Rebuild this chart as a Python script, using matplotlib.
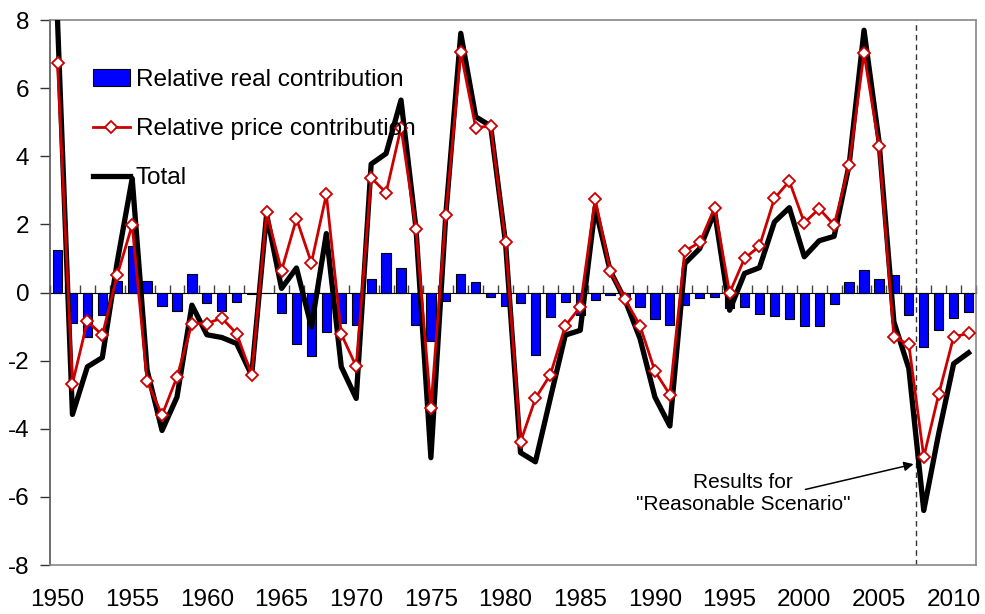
import numpy as np
import matplotlib.pyplot as plt

plt.rcParams['font.family'] = ['Liberation Sans', 'DejaVu Sans']
plt.rcParams['axes.unicode_minus'] = False

years = np.arange(1950, 2012)

# relative real contribution (bars)
real = [1.26, -0.89, -1.32, -0.65, 0.34, 1.37, 0.33, -0.40, -0.54, 0.54,
        -0.30, -0.55, -0.27, -0.03, -0.02, -0.59, -1.50, -1.85, -1.16, -0.89,
        -0.94, 0.41, 1.16, 0.72, -0.96, -1.42, -0.25, 0.54, 0.32, -0.13,
        -0.39, -0.32, -1.82, -0.71, -0.28, -0.67, -0.21, -0.07, -0.12, -0.43,
        -0.78, -0.94, -0.38, -0.16, -0.14, -0.46, -0.42, -0.64, -0.70, -0.77,
        -0.97, -0.97, -0.34, 0.31, 0.67, 0.41, 0.51, -0.66, -1.60, -1.11,
        -0.76, -0.57]

# relative price contribution (red)
price = [6.73, -2.68, -0.84, -1.25, 0.51, 1.98, -2.61, -3.60, -2.48, -0.91,
         -0.91, -0.75, -1.21, -2.43, 2.35, 0.64, 2.17, 0.87, 2.88, -1.22,
         -2.17, 3.37, 2.93, 4.84, 1.87, -3.39, 2.29, 7.05, 4.84, 4.89,
         1.47, -4.39, -3.11, -2.41, -0.98, -0.42, 2.75, 0.64, -0.20, -0.97,
         -2.31, -3.00, 1.22, 1.47, 2.49, -0.01, 1.00, 1.36, 2.76, 3.27,
         2.05, 2.46, 1.98, 3.74, 7.02, 4.29, -1.32, -1.52, -4.83, -2.99,
         -1.30, -1.20]

# total (black)
total = [8.0, -3.58, -2.18, -1.91, 0.9, 3.35, -2.28, -4.05, -3.07, -0.37,
         -1.24, -1.32, -1.50, -2.43, 2.30, 0.12, 0.72, -1.01, 1.73, -2.18,
         -3.11, 3.77, 4.08, 5.65, 1.89, -4.85, 2.29, 7.61, 5.16, 4.89,
         1.45, -4.70, -4.97, -3.10, -1.25, -1.11, 2.50, 0.64, -0.22, -1.35,
         -3.07, -3.92, 0.85, 1.29, 2.37, -0.52, 0.56, 0.73, 2.07, 2.49,
         1.05, 1.52, 1.65, 3.74, 7.70, 4.45, -0.86, -2.23, -6.40, -4.14,
         -2.09, -1.77]

label_years = np.arange(1950, 2011, 5)
scenario_start = 2007.5

fig = plt.figure(figsize=(9.85, 6.14), dpi=100)
ax = fig.add_axes([0.0508, 0.0798, 0.9401, 0.8876])

bars = ax.bar(years, real, width=0.62, color='#0000FF', edgecolor='black',
              linewidth=0.8, zorder=2, label='Relative real contribution')
red_line, = ax.plot(years, price, color='#CC0000', lw=2, marker='D',
                    markersize=6.5, markerfacecolor='white',
                    markeredgecolor='#CC0000', markeredgewidth=1.3,
                    zorder=4, label='Relative price contribution')
black_line, = ax.plot(years, total, color='black', lw=3.8, zorder=3,
                      label='Total')

ax.axvline(scenario_start, color='#333333', lw=1, ls=(0, (4, 3)), zorder=1)

ax.set_xlim(1949.5, 2011.5)
ax.set_ylim(-8, 8)
ax.set_yticks(np.arange(-8, 9, 2))
ax.set_xticks(label_years)
ax.tick_params(axis='x', length=0, pad=17, labelsize=17.5)
ax.tick_params(axis='y', length=7, width=1, direction='out', pad=8,
               labelsize=17.5, color='#333333')

for side in ['top', 'right', 'bottom']:
    ax.spines[side].set_color('#888888')
    ax.spines[side].set_linewidth(1.2)
ax.spines['left'].set_color('#555555')
ax.spines['left'].set_linewidth(1.2)

# category axis crossing at zero
zero_axis = ax.secondary_xaxis(0.5)
zero_axis.set_xticks(np.arange(1949.5, 2012, 1))
zero_axis.tick_params(axis='x', direction='out', length=6, width=1,
                      labelbottom=False, labeltop=False, color='#444444')
zero_axis.spines['bottom'].set_color('black')
zero_axis.spines['bottom'].set_linewidth(1)

ax.text(1995.9, -5.9, 'Results for\n"Reasonable Scenario"', ha='center',
        va='center', fontsize=15, linespacing=1.25)
ax.annotate('', xy=(scenario_start, -5.02), xytext=(1999.9, -5.8),
            arrowprops=dict(arrowstyle='-|>', color='black', lw=1.1,
                            mutation_scale=14))

ax.legend(handles=[bars, red_line, black_line], loc='upper left',
          bbox_to_anchor=(0.0465, 0.91), frameon=False,
          fontsize=17.6, handlelength=1.5, handletextpad=0.25,
          labelspacing=1.1, borderpad=0, borderaxespad=0)

fig.savefig('out.png', dpi=100)
